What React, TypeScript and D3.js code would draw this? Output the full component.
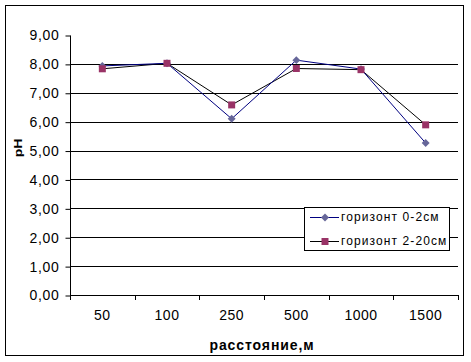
import * as d3 from "d3";
import { useEffect, useRef } from "react";

// distance categories, m
const categories = ["50", "100", "250", "500", "1000", "1500"];
const horizon0to2 = [7.93, 8.02, 6.1, 8.13, 7.82, 5.26];
const horizon2to20 = [7.83, 8.02, 6.58, 7.84, 7.8, 5.89];
const yTicks = [0, 1, 2, 3, 4, 5, 6, 7, 8, 9];
const seriesNames = ["горизонт 0-2см", "горизонт 2-20см"];

const FONT = "'Liberation Sans', Arial, sans-serif";

const App = () => {
  const svgRef = useRef<SVGSVGElement>(null);

  useEffect(() => {
    const svg = d3.select(svgRef.current);
    svg.selectAll("*").remove();

    const left = 70;
    const right = 458;
    const top = 35;
    const bottom = 295;

    const x = d3.scaleBand().domain(categories).range([left, right]).padding(0);
    const y = d3.scaleLinear().domain([0, 9]).range([bottom, top]);

    // outer chart border
    svg
      .append("rect")
      .attr("x", 5.5)
      .attr("y", 5.5)
      .attr("width", 458)
      .attr("height", 350)
      .attr("fill", "white")
      .attr("stroke", "#000")
      .attr("stroke-width", 1);

    // horizontal gridlines
    svg
      .append("g")
      .selectAll("line")
      .data(yTicks.filter((t) => t > 0 && t < 9))
      .join("line")
      .attr("x1", left)
      .attr("x2", right)
      .attr("y1", (d) => Math.round(y(d)) + 0.5)
      .attr("y2", (d) => Math.round(y(d)) + 0.5)
      .attr("stroke", "#000")
      .attr("stroke-width", 1);

    // y axis
    const yAxis = d3
      .axisLeft(y)
      .tickValues(yTicks)
      .tickSize(5)
      .tickPadding(6)
      .tickFormat((d) => d3.format(".2f")(d as number).replace(".", ","));
    const yg = svg
      .append("g")
      .attr("transform", `translate(${left + 0.5},0.5)`)
      .call(yAxis);
    yg.select(".domain").attr("d", `M-0,${top}V${bottom}`);
    yg.selectAll("text")
      .attr("font-family", FONT)
      .attr("font-size", 14)
      .attr("letter-spacing", 0.7)
      .attr("fill", "#000");

    // x axis with ticks on band boundaries
    const xg = svg.append("g");
    xg.append("line")
      .attr("x1", left)
      .attr("x2", right + 1)
      .attr("y1", bottom + 0.5)
      .attr("y2", bottom + 0.5)
      .attr("stroke", "#000");
    const boundaries = categories.map((c) => x(c) as number).concat([right]);
    xg.selectAll("line.tick")
      .data(boundaries)
      .join("line")
      .attr("class", "tick")
      .attr("x1", (d) => Math.round(d) + 0.5)
      .attr("x2", (d) => Math.round(d) + 0.5)
      .attr("y1", bottom)
      .attr("y2", bottom + 5)
      .attr("stroke", "#000");
    xg.selectAll("text")
      .data(categories)
      .join("text")
      .attr("x", (d) => (x(d) as number) + x.bandwidth() / 2)
      .attr("y", bottom + 25)
      .attr("text-anchor", "middle")
      .attr("font-family", FONT)
      .attr("font-size", 14)
      .attr("letter-spacing", 0.5)
      .text((d) => d);

    // axis titles
    svg
      .append("text")
      .attr("x", 262)
      .attr("y", 350)
      .attr("text-anchor", "middle")
      .attr("font-family", FONT)
      .attr("font-size", 14)
      .attr("font-weight", "bold")
      .attr("letter-spacing", 0.9)
      .text("расстояние,м");

    svg
      .append("text")
      .attr("transform", "translate(21.5,148) rotate(-90) scale(1,0.75)")
      .attr("text-anchor", "middle")
      .attr("font-family", FONT)
      .attr("font-size", 14)
      .attr("font-weight", "bold")
      .text("pH");

    const cx = (i: number) => (x(categories[i]) as number) + x.bandwidth() / 2;
    const line = d3
      .line<number>()
      .x((_, i) => cx(i))
      .y((d) => y(d));

    const diamond = d3.symbol().type(d3.symbolDiamond2).size(40);
    const square = d3.symbol().type(d3.symbolSquare).size(49);

    // series 2 (black line, maroon squares)
    svg
      .append("path")
      .datum(horizon2to20)
      .attr("fill", "none")
      .attr("stroke", "#000")
      .attr("stroke-width", 1)
      .attr("d", line);
    // series 1 (navy line, grey-blue diamonds)
    svg
      .append("path")
      .datum(horizon0to2)
      .attr("fill", "none")
      .attr("stroke", "#000080")
      .attr("stroke-width", 1)
      .attr("d", line);

    svg
      .append("g")
      .selectAll("path")
      .data(horizon0to2)
      .join("path")
      .attr("transform", (d, i) => `translate(${cx(i)},${y(d)})`)
      .attr("d", diamond)
      .attr("fill", "#666699");

    svg
      .append("g")
      .selectAll("path")
      .data(horizon2to20)
      .join("path")
      .attr("transform", (d, i) => `translate(${cx(i)},${y(d)})`)
      .attr("d", square)
      .attr("fill", "#993366");

    // legend
    const lg = svg.append("g");
    lg.append("rect")
      .attr("x", 304.5)
      .attr("y", 207.5)
      .attr("width", 145)
      .attr("height", 43)
      .attr("fill", "white")
      .attr("stroke", "#000");
    const rows = [
      { name: seriesNames[0], stroke: "#000080", fill: "#666699", sym: diamond, yy: 217 },
      { name: seriesNames[1], stroke: "#000", fill: "#993366", sym: square, yy: 241 },
    ];
    rows.forEach((r) => {
      lg.append("line")
        .attr("x1", 310)
        .attr("x2", 339)
        .attr("y1", r.yy + 0.5)
        .attr("y2", r.yy + 0.5)
        .attr("stroke", r.stroke);
      lg.append("path")
        .attr("transform", `translate(325,${r.yy + 0.5})`)
        .attr("d", r.sym)
        .attr("fill", r.fill);
      lg.append("text")
        .attr("x", 341)
        .attr("y", r.yy + 4)
        .attr("font-family", FONT)
        .attr("font-size", 12)
        .attr("letter-spacing", 1.1)
        .text(r.name);
    });
  }, []);

  return (
    <svg
      ref={svgRef}
      width={471}
      height={362}
      style={{ position: "absolute", left: 0, top: 0, background: "white" }}
    />
  );
};

export default App;
